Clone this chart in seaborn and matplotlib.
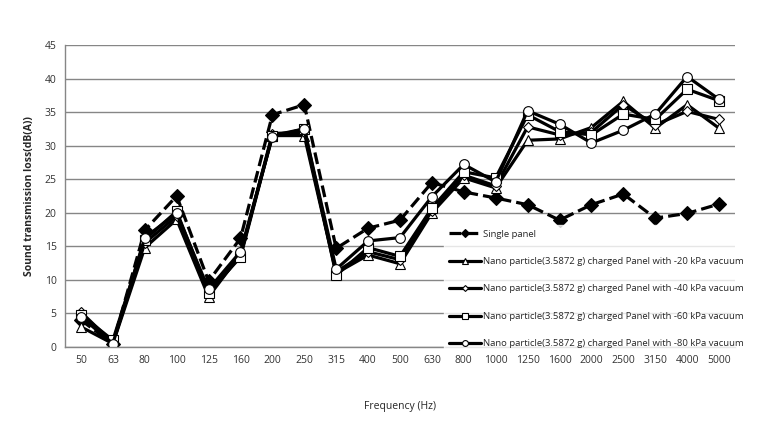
# Sound transmission loss - single panel vs nano particle charged panels

import numpy as np
import pandas as pd
import matplotlib
matplotlib.use("Agg")
import matplotlib.pyplot as plt
import seaborn as sns

# ============================================================
# DATA
# ============================================================

freqs = ["50", "63", "80", "100", "125", "160", "200", "250", "315", "400", "500",
         "630", "800", "1000", "1250", "1600", "2000", "2500", "3150", "4000", "5000"]

single_panel = [4.0, 0.5, 17.4, 22.5, 9.8, 16.2, 34.6, 36.1, 14.7, 17.7, 18.9,
                24.5, 23.1, 22.2, 21.2, 18.9, 21.2, 22.8, 19.2, 19.9, 21.3]
vac_20 = [3.0, 0.5, 14.8, 19.0, 7.5, 13.8, 31.5, 31.5, 11.0, 13.7, 12.4,
          20.0, 25.2, 23.7, 30.8, 31.0, 32.7, 36.6, 32.6, 36.1, 32.6]
vac_40 = [5.2, 0.6, 15.5, 19.5, 8.0, 13.6, 31.8, 32.0, 11.2, 14.2, 13.0,
          20.3, 25.6, 24.0, 32.8, 31.6, 32.0, 36.1, 33.1, 35.1, 33.9]
vac_60 = [4.8, 1.0, 16.0, 20.2, 8.1, 13.4, 31.5, 32.5, 10.7, 14.8, 13.5,
          20.7, 26.1, 25.2, 34.6, 32.1, 31.6, 34.7, 33.9, 38.4, 36.7]
vac_80 = [4.5, 0.5, 16.3, 19.9, 8.6, 14.2, 31.3, 32.5, 11.6, 15.8, 16.3,
          22.4, 27.2, 24.6, 35.2, 33.2, 30.4, 32.3, 34.7, 40.3, 36.9]

labels = ["Single panel",
          "Nano particle(3.5872 g) charged Panel with -20 kPa vacuum",
          "Nano particle(3.5872 g) charged Panel with -40 kPa vacuum",
          "Nano particle(3.5872 g) charged Panel with -60 kPa vacuum",
          "Nano particle(3.5872 g) charged Panel with -80 kPa vacuum"]

series = [single_panel, vac_20, vac_40, vac_60, vac_80]

# ============================================================
# STYLE
# ============================================================

sns.set_style("white")
plt.rcParams["font.family"] = ["Open Sans", "DejaVu Sans"]

markers = ["D", "^", "D", "s", "o"]
marker_sizes = [7, 7, 5, 7, 7]
face_colors = ["black", "white", "white", "white", "white"]
line_styles = ["--", "-", "-", "-", "-"]

# ============================================================
# PLOT
# ============================================================

fig = plt.figure(figsize=(7.57, 4.21), dpi=100)
ax = fig.add_axes([0.0859, 0.1758, 0.885, 0.7174])

x_pos = np.arange(len(freqs))

for i in range(len(series)):
    sns.lineplot(
        x=x_pos,
        y=series[i],
        ax=ax,
        color="black",
        linewidth=2.3,
        linestyle=line_styles[i],
        marker=markers[i],
        markersize=marker_sizes[i],
        markerfacecolor=face_colors[i],
        markeredgecolor="black",
        markeredgewidth=0.8,
        label=labels[i],
    )

ax.set_xlim(-0.5, len(freqs) - 0.5)
ax.set_ylim(0, 45)
ax.set_yticks(range(0, 46, 5))
ax.set_xticks(x_pos)
ax.set_xticklabels(freqs)
ax.tick_params(axis="both", length=0, labelsize=7.5, colors="#333333", pad=6)

ax.yaxis.grid(True, color="#868686", linewidth=1)
ax.set_axisbelow(True)
for side in ["top", "right"]:
    ax.spines[side].set_visible(False)
for side in ["left", "bottom"]:
    ax.spines[side].set_color("#868686")
    ax.spines[side].set_linewidth(1)

ax.set_xlabel("Frequency (Hz)", fontsize=7.5, labelpad=25)
ax.set_ylabel("Sound transmission loss(dB(A))", fontsize=7.5, fontweight="bold", labelpad=7)

# legend with small markers, sitting over the lower right of the plot
handles, leg_labels = ax.get_legend_handles_labels()
leg = ax.legend(
    handles, leg_labels,
    loc="upper left",
    bbox_to_anchor=(0.559, 0.42),
    frameon=True,
    fontsize=6.8,
    handlelength=3.4,
    handletextpad=0.2,
    labelspacing=1.95,
    markerscale=0.6,
    borderpad=0.5,
)
leg.get_frame().set_facecolor("white")
leg.get_frame().set_edgecolor("white")

fig.savefig("out.png", dpi=100)
